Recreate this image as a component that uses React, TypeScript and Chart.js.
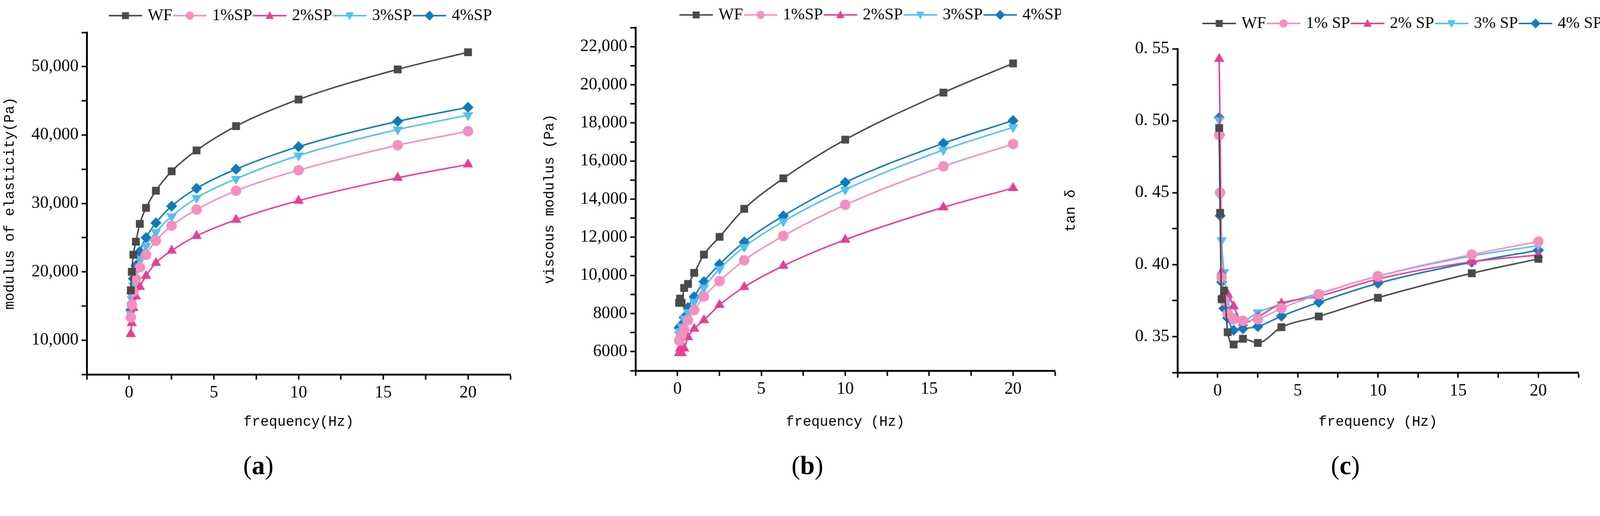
import React, { useEffect, useRef, useState } from "react";
import { Chart, registerables } from "chart.js";
Chart.register(...registerables);

const freq = [0.1, 0.16, 0.25, 0.4, 0.63, 1, 1.58, 2.51, 3.98, 6.31, 10, 15.85, 20];
const seriesNames = ["WF", "1%SP", "2%SP", "3%SP", "4%SP"];
const seriesNamesC = ["WF", "1% SP", "2% SP", "3% SP", "4% SP"];
const colors = ["#4a4a4a", "#f48fbf", "#e83e96", "#52c0f0", "#127ab9"];
const markers = ["rect", "circle", "triangle", "triangleDown", "rectRot"];

const elastWF = [17300, 20000, 22500, 24400, 27000, 29350, 31850, 34700, 37750, 41300, 45200, 49600, 52100];
const elast1 = [13350, 15200, 17100, 18950, 20650, 22500, 24550, 26750, 29100, 31850, 34850, 38500, 40550];
const elast2 = [10900, 12500, 14700, 16400, 17800, 19400, 21300, 23100, 25250, 27600, 30400, 33750, 35700];
const elast3 = [13900, 16000, 18000, 20100, 21900, 23750, 25800, 28100, 30800, 33600, 37000, 40800, 42900];
const elast4 = [14400, 16900, 19000, 20900, 22950, 25000, 27150, 29600, 32200, 35000, 38300, 42000, 44050];

const viscWF = [8560, 8780, 8560, 9340, 9550, 10130, 11090, 12020, 13490, 15090, 17120, 19590, 21120];
const visc1 = [6580, 6660, 6830, 7160, 7650, 8180, 8890, 9700, 10790, 12070, 13700, 15720, 16890];
const visc2 = [5920, 6170, 5920, 6170, 6760, 7200, 7650, 8450, 9390, 10500, 11870, 13570, 14580];
const visc3 = [6910, 7070, 7320, 7740, 8070, 8610, 9360, 10330, 11490, 12830, 14500, 16580, 17770];
const visc4 = [7240, 7320, 7400, 7790, 8310, 8880, 9670, 10580, 11750, 13120, 14880, 16930, 18120];

const tanWF = [0.495, 0.436, 0.376, 0.382, 0.353, 0.3445, 0.3485, 0.3456, 0.3565, 0.364, 0.377, 0.394, 0.404];
const tan1 = [0.49, 0.45, 0.391, 0.375, 0.366, 0.362, 0.361, 0.362, 0.3696, 0.3794, 0.392, 0.407, 0.416];
const tan2 = [0.543, 0.492, 0.3947, 0.3805, 0.3795, 0.371, 0.3594, 0.3637, 0.373, 0.378, 0.39, 0.402, 0.4067];
const tan3 = [0.5005, 0.448, 0.417, 0.3947, 0.3755, 0.3642, 0.361, 0.3668, 0.3725, 0.38, 0.392, 0.406, 0.4132];
const tan4 = [0.5022, 0.434, 0.388, 0.3696, 0.363, 0.3544, 0.3555, 0.357, 0.3642, 0.3738, 0.387, 0.4017, 0.41];

const TICK_FONT = { family: "Liberation Serif", size: 46 };
const TITLE_FONT = { family: "Liberation Mono", size: 38 };

type PanelCfg = {
  left: number; width: number; height: number;
  area: { l: number; r: number; t: number; b: number };
  series: number[][]; names: string[];
  yMin: number; yMax: number; yStep: number; yFmt: (v: number) => string;
  yTitle: string; xTitle: string;
  legend: { x: number; y: number };
  caption: string; captionX: number;
};

const fmtThousands = (v: number) => (v >= 10000 ? v.toLocaleString("en-US") : String(v));
const fmtTan = (v: number) => v.toFixed(2).replace(".", ". ");

const panels: PanelCfg[] = [
  {
    left: 0, width: 1450, height: 1160,
    area: { l: 233, r: 1371, t: 87, b: 1005 },
    series: [elastWF, elast1, elast2, elast3, elast4], names: seriesNames,
    yMin: 5000, yMax: 55000, yStep: 5000, yFmt: fmtThousands,
    yTitle: "modulus of elasticity(Pa)", xTitle: "frequency(Hz)",
    legend: { x: 292, y: 42 }, caption: "a", captionX: 694,
  },
  {
    left: 1450, width: 1400, height: 1160,
    area: { l: 257, r: 1390, t: 74, b: 995 },
    series: [viscWF, visc1, visc2, visc3, visc4], names: seriesNames,
    yMin: 5000, yMax: 23000, yStep: 1000, yFmt: fmtThousands,
    yTitle: "viscous modulus (Pa)", xTitle: "frequency (Hz)",
    legend: { x: 375, y: 40 }, caption: "b", captionX: 719,
  },
  {
    left: 2850, width: 1448, height: 1160,
    area: { l: 313, r: 1390, t: 131, b: 1000 },
    series: [tanWF, tan1, tan2, tan3, tan4], names: seriesNamesC,
    yMin: 0.325, yMax: 0.55, yStep: 0.025, yFmt: fmtTan,
    yTitle: "tan δ", xTitle: "frequency (Hz)",
    legend: { x: 380, y: 63 }, caption: "c", captionX: 764,
  },
];

function drawMarker(c: CanvasRenderingContext2D, kind: string, x: number, y: number, r: number, col: string) {
  c.fillStyle = col;
  c.beginPath();
  if (kind === "rect") c.rect(x - r * 0.85, y - r * 0.85, r * 1.7, r * 1.7);
  else if (kind === "circle") c.arc(x, y, r, 0, Math.PI * 2);
  else if (kind === "triangle") { c.moveTo(x, y - r * 1.1); c.lineTo(x + r, y + r * 0.8); c.lineTo(x - r, y + r * 0.8); c.closePath(); }
  else if (kind === "triangleDown") { c.moveTo(x, y + r * 1.1); c.lineTo(x + r, y - r * 0.8); c.lineTo(x - r, y - r * 0.8); c.closePath(); }
  else { c.moveTo(x, y - r * 1.2); c.lineTo(x + r * 1.2, y); c.lineTo(x, y + r * 1.2); c.lineTo(x - r * 1.2, y); c.closePath(); }
  c.fill();
}

function Panel({ cfg }: { cfg: PanelCfg }) {
  const ref = useRef<HTMLCanvasElement>(null);
  useEffect(() => {
    const legendPlugin = {
      id: "lineLegend",
      afterDraw(chart: any) {
        const c = chart.ctx;
        c.save();
        c.font = "44px 'Liberation Serif'";
        c.textBaseline = "middle";
        let x = cfg.legend.x;
        const y = cfg.legend.y;
        cfg.names.forEach((n, i) => {
          c.strokeStyle = colors[i];
          c.lineWidth = 4;
          c.beginPath();
          c.moveTo(x, y);
          c.lineTo(x + 90, y);
          c.stroke();
          drawMarker(c, markers[i], x + 45, y, 11, colors[i]);
          x += 105;
          c.fillStyle = "#000";
          c.fillText(n, x, y);
          x += c.measureText(n).width + 2;
        });
        c.restore();
      },
    };
    const datasets = cfg.series.map((s, i) => ({
      label: cfg.names[i],
      data: s.map((v, j) => ({ x: freq[j], y: v })),
      borderColor: colors[i],
      backgroundColor: colors[i],
      borderWidth: 4,
      pointStyle: markers[i] === "triangleDown" ? "triangle" : markers[i],
      rotation: markers[i] === "triangleDown" ? 180 : 0,
      pointRadius: 12,
      cubicInterpolationMode: "monotone" as const,
    }));
    const a = cfg.area;
    const chart = new Chart(ref.current!, {
      type: "line",
      data: { datasets },
      plugins: [legendPlugin],
      options: {
        animation: false,
        responsive: false,
        devicePixelRatio: 1,
        layout: { padding: { left: 0, top: a.t, right: cfg.width - a.r, bottom: 0 } },
        plugins: { legend: { display: false }, tooltip: { enabled: false } },
        scales: {
          x: {
            type: "linear", min: -2.5, max: 22.5,
            afterBuildTicks: (s: any) => {
              const t = [];
              for (let v = -2.5; v <= 22.5; v += 2.5) t.push({ value: v });
              s.ticks = t;
            },
            afterFit: (s: any) => { s.height = cfg.height - a.b; },
            ticks: {
              autoSkip: false, maxRotation: 0, color: "#000", font: TICK_FONT, padding: 8,
              callback: (v: any) => (Number(v) % 5 === 0 && Number(v) >= 0 ? String(v) : ""),
            },
            grid: { drawOnChartArea: false, tickLength: 14, tickWidth: 4, tickColor: "#000" },
            border: { display: true, width: 5, color: "#000" },
            title: { display: true, text: cfg.xTitle, color: "#000", font: TITLE_FONT, padding: { top: 10 } },
          },
          y: {
            type: "linear", min: cfg.yMin, max: cfg.yMax,
            afterBuildTicks: (s: any) => {
              const t = [];
              for (let v = cfg.yMin; v <= cfg.yMax + 1e-9; v += cfg.yStep) t.push({ value: Math.round(v * 1e6) / 1e6 });
              s.ticks = t;
            },
            afterFit: (s: any) => { s.width = a.l; },
            ticks: {
              autoSkip: false, color: "#000", font: TICK_FONT, padding: 8,
              callback: (v: any) => {
                const n = Number(v);
                const k = Math.round((n - (cfg.yMin + cfg.yStep)) / cfg.yStep);
                return k % 2 === 0 && n > cfg.yMin ? cfg.yFmt(n) : "";
              },
            },
            grid: { drawOnChartArea: false, tickLength: 14, tickWidth: 4, tickColor: "#000" },
            border: { display: true, width: 5, color: "#000" },
            title: { display: true, text: cfg.yTitle, color: "#000", font: TITLE_FONT, padding: { bottom: 10 } },
          },
        },
      },
    });
    return () => chart.destroy();
  }, []);
  return (
    <div style={{ position: "absolute", left: cfg.left, top: 0, width: cfg.width, height: 1320, overflow: "hidden" }}>
      <canvas ref={ref} width={cfg.width} height={cfg.height} style={{ display: "block", width: cfg.width, height: cfg.height }} />
      <div style={{ position: "absolute", left: cfg.captionX - 100, width: 200, top: 1210, textAlign: "center", fontFamily: "Liberation Serif", fontSize: 70, lineHeight: "80px" }}>
        (<b>{cfg.caption}</b>)
      </div>
    </div>
  );
}

export default function App() {
  const [scale, setScale] = useState(1);
  useEffect(() => {
    document.body.style.margin = "0";
    document.documentElement.style.overflow = "hidden";
    const w = document.documentElement.clientWidth || window.innerWidth;
    if (w && w < 4298) setScale(w / 4298);
  }, []);
  return (
    <div style={{ width: 4298 * scale, height: 1320 * scale, overflow: "hidden" }}>
      <div style={{ position: "relative", width: 4298, height: 1320, background: "#fff", transform: `scale(${scale})`, transformOrigin: "0 0" }}>
        {panels.map((p, i) => <Panel key={i} cfg={p} />)}
      </div>
    </div>
  );
}
